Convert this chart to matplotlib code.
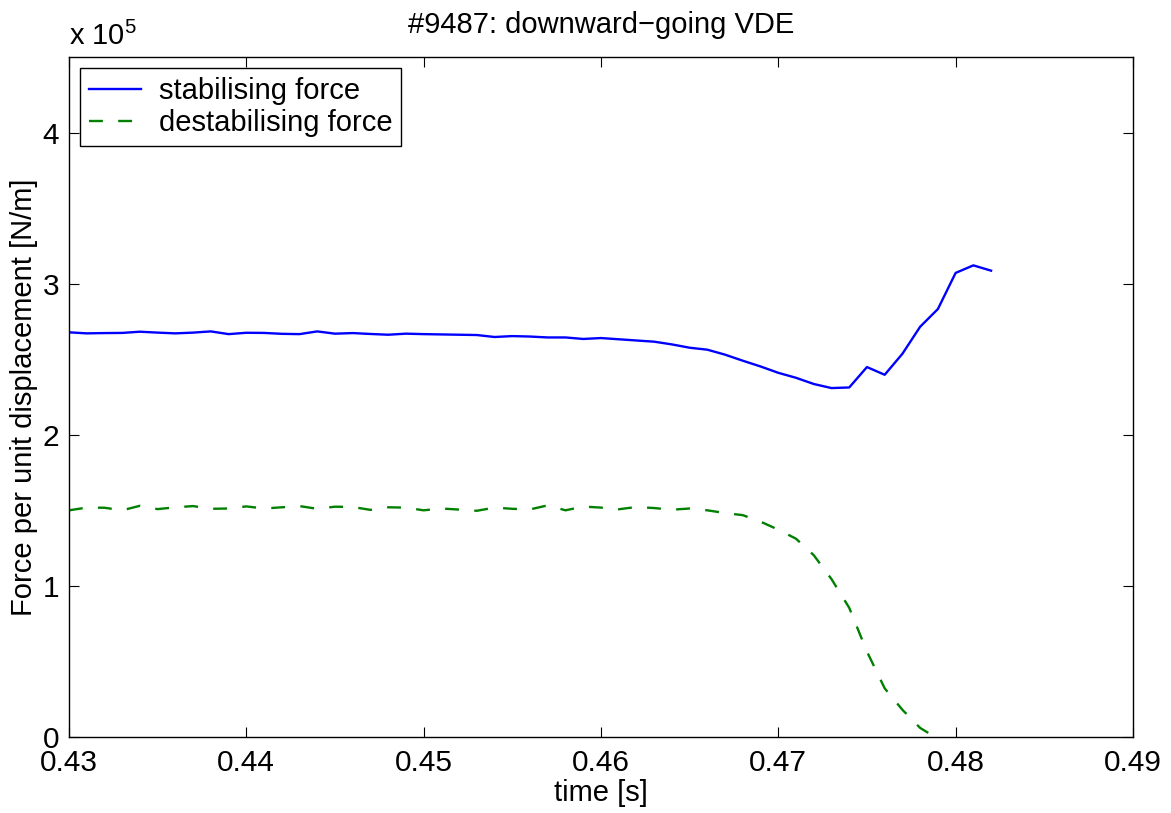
import matplotlib
matplotlib.use('Agg')  # no display in the sandbox
import matplotlib.pyplot as plt

# ========================
# Fonts (MATLAB look: Helvetica -> Liberation Sans)
# ========================
plt.rcParams['font.family'] = ['Liberation Sans', 'DejaVu Sans']
plt.rcParams['mathtext.fontset'] = 'custom'
plt.rcParams['mathtext.rm'] = 'Liberation Sans'
plt.rcParams['lines.scale_dashes'] = False

# ========================
# Data (force in units of 1e5 N/m)
# ========================
t_stab = [0.430, 0.431, 0.432, 0.433, 0.434, 0.435, 0.436, 0.437, 0.438, 0.439,
          0.440, 0.441, 0.442, 0.443, 0.444, 0.445, 0.446, 0.447, 0.448, 0.449,
          0.450, 0.451, 0.452, 0.453, 0.454, 0.455, 0.456, 0.457, 0.458, 0.459,
          0.460, 0.461, 0.462, 0.463, 0.464, 0.465, 0.466, 0.467, 0.468, 0.469,
          0.470, 0.471, 0.472, 0.473, 0.474, 0.475, 0.476, 0.477, 0.478, 0.479,
          0.480, 0.481, 0.482]
stab = [2.678, 2.671, 2.673, 2.674, 2.682, 2.676, 2.671, 2.676, 2.684, 2.666,
        2.675, 2.674, 2.668, 2.666, 2.684, 2.669, 2.673, 2.667, 2.662, 2.669,
        2.666, 2.664, 2.662, 2.660, 2.647, 2.653, 2.650, 2.644, 2.644, 2.634,
        2.640, 2.632, 2.624, 2.616, 2.598, 2.576, 2.563, 2.530, 2.490, 2.452,
        2.410, 2.377, 2.336, 2.309, 2.313, 2.448, 2.397, 2.536, 2.715, 2.832,
        3.071, 3.121, 3.086]

t_dest = [0.430, 0.431, 0.432, 0.433, 0.434, 0.435, 0.436, 0.437, 0.438, 0.439,
          0.440, 0.441, 0.442, 0.443, 0.444, 0.445, 0.446, 0.447, 0.448, 0.449,
          0.450, 0.451, 0.452, 0.453, 0.454, 0.455, 0.456, 0.457, 0.458, 0.459,
          0.460, 0.461, 0.462, 0.463, 0.464, 0.465, 0.466, 0.467, 0.468, 0.469,
          0.470, 0.471, 0.472, 0.473, 0.474, 0.475, 0.476, 0.477, 0.478, 0.479]
dest = [1.500, 1.518, 1.517, 1.500, 1.530, 1.508, 1.520, 1.528, 1.510, 1.512,
        1.526, 1.512, 1.520, 1.528, 1.510, 1.524, 1.522, 1.503, 1.520, 1.518,
        1.500, 1.512, 1.505, 1.497, 1.518, 1.510, 1.506, 1.533, 1.500, 1.525,
        1.518, 1.507, 1.522, 1.515, 1.504, 1.512, 1.500, 1.482, 1.468, 1.425,
        1.372, 1.312, 1.203, 1.045, 0.855, 0.565, 0.322, 0.180, 0.060, -0.012]

xticks = [0.43, 0.44, 0.45, 0.46, 0.47, 0.48, 0.49]
xticklabels = ['0.43', '0.44', '0.45', '0.46', '0.47', '0.48', '0.49']
yticks = [0, 1, 2, 3, 4]
yticklabels = ['0', '1', '2', '3', '4']

# ========================
# Figure
# ========================
fig = plt.figure(figsize=(11.71, 8.13), dpi=100)
ax = fig.add_axes([0.0589, 0.0935, 0.9086, 0.8364])

ax.plot(t_stab, stab, color='#0000ff', linewidth=1.7, label='stabilising force')
ax.plot(t_dest, dest, color='#008000', linewidth=1.7, dashes=(10, 11),
        label='destabilising force')

ax.set_xlim(0.43, 0.49)
ax.set_ylim(0, 4.5)
ax.set_xticks(xticks)
ax.set_xticklabels(xticklabels)
ax.set_yticks(yticks)
ax.set_yticklabels(yticklabels)
ax.tick_params(direction='in', length=7.5, width=0.8, labelsize=21.5,
               top=True, right=True)
ax.tick_params(axis='x', pad=9)
ax.tick_params(axis='y', pad=7)
for s in ax.spines.values():
    s.set_linewidth(1.0)

ax.set_xlabel('time [s]', fontsize=21, labelpad=1)
ax.set_ylabel('Force per unit displacement [N/m]', fontsize=21, labelpad=3)
ax.set_title('#9487: downward\u2212going VDE', fontsize=21, pad=17)

# scale factor text like MATLAB
ax.text(0.0, 1.018, r'x 10$^{5}$', transform=ax.transAxes, fontsize=21,
        ha='left', va='baseline')

leg = ax.legend(loc='upper left', fontsize=21, frameon=True, fancybox=False,
                handlelength=1.8, handletextpad=0.6, borderpad=0.3,
                labelspacing=0.15, borderaxespad=0.38)
leg.get_frame().set_edgecolor('black')
leg.get_frame().set_linewidth(1.0)
leg.get_frame().set_alpha(1)

fig.savefig('out.png', dpi=100)
